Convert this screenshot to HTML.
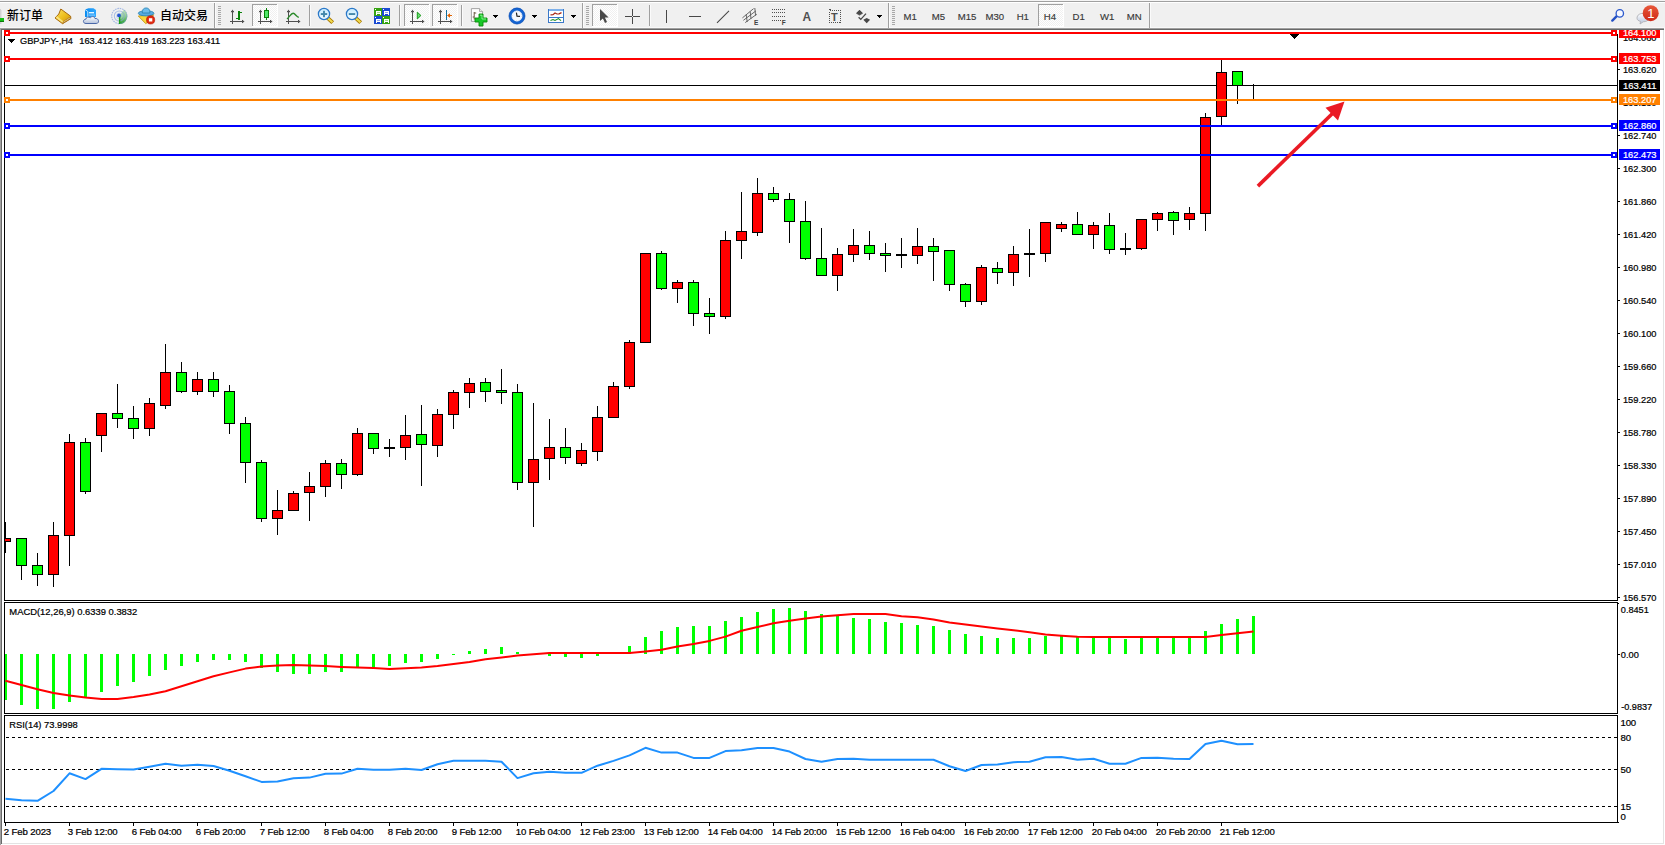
<!DOCTYPE html>
<html lang="zh"><head><meta charset="utf-8"><title>GBPJPY-,H4</title>
<style>
html,body{margin:0;padding:0;background:#f0f0f0;}
body{width:1665px;height:845px;overflow:hidden;position:relative;font-family:"Liberation Sans","Noto Sans CJK SC",sans-serif;}
svg{position:absolute;left:0;top:0;display:block}
text{font-family:"Liberation Sans","Noto Sans CJK SC",sans-serif;}
.ax{font-size:9.6px;fill:#000;stroke:#000;stroke-width:.22px}
.dt{font-size:9.6px;letter-spacing:-0.13px;fill:#000;stroke:#000;stroke-width:.22px}
.axw{font-size:9.6px;fill:#fff;stroke:#fff;stroke-width:.22px}
.tf{font-size:9.6px;fill:#383838;stroke:#383838;stroke-width:.15px}
.cn{font-size:12px;fill:#000;font-family:"Liberation Sans","Noto Sans CJK SC",sans-serif}
.crisp{shape-rendering:crispEdges}
</style></head><body>
<svg width="1665" height="845" viewBox="0 0 1665 845">
<g class="crisp">
<rect x="0" y="0" width="1665" height="845" fill="#f0f0f0"/>
<rect x="0" y="0" width="1665" height="1" fill="#f5f5f5"/>
<rect x="0" y="1" width="1665" height="1" fill="#a0a0a0"/>
<rect x="0" y="2" width="1665" height="1" fill="#ffffff"/>
<rect x="0" y="27" width="1665" height="1" fill="#f8f8f8"/>
<rect x="0" y="28" width="1664" height="817" fill="#a0a0a0"/>
<rect x="1" y="29" width="1663" height="816" fill="#696969"/>
<rect x="2" y="30" width="1663" height="815" fill="#ffffff"/>
<rect x="1663" y="30" width="1" height="814" fill="#e3e3e3"/>
<rect x="2" y="843" width="1662" height="1" fill="#e3e3e3"/>
<rect x="1664" y="28" width="1" height="817" fill="#ffffff"/>
<rect x="0" y="844" width="1665" height="1" fill="#ffffff"/>
<rect x="0" y="28" width="1" height="817" fill="#a0a0a0"/>
</g>
<g class="crisp">
<rect x="4" y="30" width="1" height="571" fill="#000"/>
<rect x="1617" y="34" width="1" height="567" fill="#000"/>
<rect x="4" y="600" width="1614" height="1" fill="#000"/>
<rect x="4" y="602" width="1614" height="1" fill="#000"/>
<rect x="4" y="602" width="1" height="112" fill="#000"/>
<rect x="1617" y="602" width="1" height="112" fill="#000"/>
<rect x="4" y="713" width="1614" height="1" fill="#000"/>
<rect x="4" y="715" width="1614" height="1" fill="#000"/>
<rect x="4" y="715" width="1" height="108" fill="#000"/>
<rect x="1617" y="715" width="1" height="108" fill="#000"/>
<rect x="4" y="822" width="1614" height="1" fill="#000"/>
<rect x="5" y="85" width="1612" height="1" fill="#000"/>
<rect x="5" y="522" width="1" height="31" fill="#000"/>
<rect x="5" y="538" width="6" height="4" fill="#000"/>
<rect x="5" y="539" width="5" height="2" fill="#ff0000"/>
<rect x="21" y="538" width="1" height="42" fill="#000"/>
<rect x="16" y="538" width="11" height="28" fill="#000"/>
<rect x="17" y="539" width="9" height="26" fill="#00ff00"/>
<rect x="37" y="553" width="1" height="33" fill="#000"/>
<rect x="32" y="565" width="11" height="10" fill="#000"/>
<rect x="33" y="566" width="9" height="8" fill="#00ff00"/>
<rect x="53" y="522" width="1" height="65" fill="#000"/>
<rect x="48" y="535" width="11" height="40" fill="#000"/>
<rect x="49" y="536" width="9" height="38" fill="#ff0000"/>
<rect x="69" y="434" width="1" height="132" fill="#000"/>
<rect x="64" y="442" width="11" height="94" fill="#000"/>
<rect x="65" y="443" width="9" height="92" fill="#ff0000"/>
<rect x="85" y="438" width="1" height="56" fill="#000"/>
<rect x="80" y="442" width="11" height="50" fill="#000"/>
<rect x="81" y="443" width="9" height="48" fill="#00ff00"/>
<rect x="101" y="413" width="1" height="39" fill="#000"/>
<rect x="96" y="413" width="11" height="23" fill="#000"/>
<rect x="97" y="414" width="9" height="21" fill="#ff0000"/>
<rect x="117" y="384" width="1" height="44" fill="#000"/>
<rect x="112" y="413" width="11" height="6" fill="#000"/>
<rect x="113" y="414" width="9" height="4" fill="#00ff00"/>
<rect x="133" y="406" width="1" height="33" fill="#000"/>
<rect x="128" y="418" width="11" height="11" fill="#000"/>
<rect x="129" y="419" width="9" height="9" fill="#00ff00"/>
<rect x="149" y="398" width="1" height="38" fill="#000"/>
<rect x="144" y="403" width="11" height="26" fill="#000"/>
<rect x="145" y="404" width="9" height="24" fill="#ff0000"/>
<rect x="165" y="344" width="1" height="65" fill="#000"/>
<rect x="160" y="372" width="11" height="34" fill="#000"/>
<rect x="161" y="373" width="9" height="32" fill="#ff0000"/>
<rect x="181" y="362" width="1" height="31" fill="#000"/>
<rect x="176" y="372" width="11" height="20" fill="#000"/>
<rect x="177" y="373" width="9" height="18" fill="#00ff00"/>
<rect x="197" y="372" width="1" height="23" fill="#000"/>
<rect x="192" y="379" width="11" height="13" fill="#000"/>
<rect x="193" y="380" width="9" height="11" fill="#ff0000"/>
<rect x="213" y="372" width="1" height="25" fill="#000"/>
<rect x="208" y="379" width="11" height="13" fill="#000"/>
<rect x="209" y="380" width="9" height="11" fill="#00ff00"/>
<rect x="229" y="385" width="1" height="49" fill="#000"/>
<rect x="224" y="391" width="11" height="33" fill="#000"/>
<rect x="225" y="392" width="9" height="31" fill="#00ff00"/>
<rect x="245" y="417" width="1" height="66" fill="#000"/>
<rect x="240" y="423" width="11" height="40" fill="#000"/>
<rect x="241" y="424" width="9" height="38" fill="#00ff00"/>
<rect x="261" y="460" width="1" height="62" fill="#000"/>
<rect x="256" y="462" width="11" height="57" fill="#000"/>
<rect x="257" y="463" width="9" height="55" fill="#00ff00"/>
<rect x="277" y="490" width="1" height="45" fill="#000"/>
<rect x="272" y="510" width="11" height="9" fill="#000"/>
<rect x="273" y="511" width="9" height="7" fill="#ff0000"/>
<rect x="293" y="491" width="1" height="20" fill="#000"/>
<rect x="288" y="493" width="11" height="18" fill="#000"/>
<rect x="289" y="494" width="9" height="16" fill="#ff0000"/>
<rect x="309" y="472" width="1" height="49" fill="#000"/>
<rect x="304" y="486" width="11" height="7" fill="#000"/>
<rect x="305" y="487" width="9" height="5" fill="#ff0000"/>
<rect x="325" y="460" width="1" height="37" fill="#000"/>
<rect x="320" y="463" width="11" height="24" fill="#000"/>
<rect x="321" y="464" width="9" height="22" fill="#ff0000"/>
<rect x="341" y="459" width="1" height="30" fill="#000"/>
<rect x="336" y="463" width="11" height="12" fill="#000"/>
<rect x="337" y="464" width="9" height="10" fill="#00ff00"/>
<rect x="357" y="428" width="1" height="48" fill="#000"/>
<rect x="352" y="433" width="11" height="42" fill="#000"/>
<rect x="353" y="434" width="9" height="40" fill="#ff0000"/>
<rect x="373" y="433" width="1" height="21" fill="#000"/>
<rect x="368" y="433" width="11" height="16" fill="#000"/>
<rect x="369" y="434" width="9" height="14" fill="#00ff00"/>
<rect x="389" y="439" width="1" height="18" fill="#000"/>
<rect x="384" y="447" width="11" height="2" fill="#000"/>
<rect x="405" y="415" width="1" height="45" fill="#000"/>
<rect x="400" y="435" width="11" height="13" fill="#000"/>
<rect x="401" y="436" width="9" height="11" fill="#ff0000"/>
<rect x="421" y="405" width="1" height="81" fill="#000"/>
<rect x="416" y="434" width="11" height="11" fill="#000"/>
<rect x="417" y="435" width="9" height="9" fill="#00ff00"/>
<rect x="437" y="409" width="1" height="48" fill="#000"/>
<rect x="432" y="414" width="11" height="32" fill="#000"/>
<rect x="433" y="415" width="9" height="30" fill="#ff0000"/>
<rect x="453" y="390" width="1" height="39" fill="#000"/>
<rect x="448" y="392" width="11" height="23" fill="#000"/>
<rect x="449" y="393" width="9" height="21" fill="#ff0000"/>
<rect x="469" y="378" width="1" height="30" fill="#000"/>
<rect x="464" y="383" width="11" height="10" fill="#000"/>
<rect x="465" y="384" width="9" height="8" fill="#ff0000"/>
<rect x="485" y="378" width="1" height="24" fill="#000"/>
<rect x="480" y="382" width="11" height="10" fill="#000"/>
<rect x="481" y="383" width="9" height="8" fill="#00ff00"/>
<rect x="501" y="369" width="1" height="35" fill="#000"/>
<rect x="496" y="390" width="11" height="3" fill="#000"/>
<rect x="497" y="391" width="9" height="1" fill="#00ff00"/>
<rect x="517" y="384" width="1" height="106" fill="#000"/>
<rect x="512" y="392" width="11" height="91" fill="#000"/>
<rect x="513" y="393" width="9" height="89" fill="#00ff00"/>
<rect x="533" y="403" width="1" height="124" fill="#000"/>
<rect x="528" y="459" width="11" height="24" fill="#000"/>
<rect x="529" y="460" width="9" height="22" fill="#ff0000"/>
<rect x="549" y="419" width="1" height="61" fill="#000"/>
<rect x="544" y="447" width="11" height="12" fill="#000"/>
<rect x="545" y="448" width="9" height="10" fill="#ff0000"/>
<rect x="565" y="428" width="1" height="36" fill="#000"/>
<rect x="560" y="447" width="11" height="11" fill="#000"/>
<rect x="561" y="448" width="9" height="9" fill="#00ff00"/>
<rect x="581" y="443" width="1" height="23" fill="#000"/>
<rect x="576" y="450" width="11" height="14" fill="#000"/>
<rect x="577" y="451" width="9" height="12" fill="#ff0000"/>
<rect x="597" y="406" width="1" height="55" fill="#000"/>
<rect x="592" y="417" width="11" height="35" fill="#000"/>
<rect x="593" y="418" width="9" height="33" fill="#ff0000"/>
<rect x="613" y="382" width="1" height="36" fill="#000"/>
<rect x="608" y="386" width="11" height="32" fill="#000"/>
<rect x="609" y="387" width="9" height="30" fill="#ff0000"/>
<rect x="629" y="340" width="1" height="49" fill="#000"/>
<rect x="624" y="342" width="11" height="45" fill="#000"/>
<rect x="625" y="343" width="9" height="43" fill="#ff0000"/>
<rect x="645" y="253" width="1" height="90" fill="#000"/>
<rect x="640" y="253" width="11" height="90" fill="#000"/>
<rect x="641" y="254" width="9" height="88" fill="#ff0000"/>
<rect x="661" y="251" width="1" height="39" fill="#000"/>
<rect x="656" y="253" width="11" height="36" fill="#000"/>
<rect x="657" y="254" width="9" height="34" fill="#00ff00"/>
<rect x="677" y="280" width="1" height="23" fill="#000"/>
<rect x="672" y="282" width="11" height="7" fill="#000"/>
<rect x="673" y="283" width="9" height="5" fill="#ff0000"/>
<rect x="693" y="280" width="1" height="46" fill="#000"/>
<rect x="688" y="282" width="11" height="32" fill="#000"/>
<rect x="689" y="283" width="9" height="30" fill="#00ff00"/>
<rect x="709" y="298" width="1" height="36" fill="#000"/>
<rect x="704" y="313" width="11" height="4" fill="#000"/>
<rect x="705" y="314" width="9" height="2" fill="#00ff00"/>
<rect x="725" y="231" width="1" height="88" fill="#000"/>
<rect x="720" y="240" width="11" height="77" fill="#000"/>
<rect x="721" y="241" width="9" height="75" fill="#ff0000"/>
<rect x="741" y="192" width="1" height="67" fill="#000"/>
<rect x="736" y="231" width="11" height="10" fill="#000"/>
<rect x="737" y="232" width="9" height="8" fill="#ff0000"/>
<rect x="757" y="178" width="1" height="58" fill="#000"/>
<rect x="752" y="193" width="11" height="40" fill="#000"/>
<rect x="753" y="194" width="9" height="38" fill="#ff0000"/>
<rect x="773" y="187" width="1" height="15" fill="#000"/>
<rect x="768" y="193" width="11" height="7" fill="#000"/>
<rect x="769" y="194" width="9" height="5" fill="#00ff00"/>
<rect x="789" y="193" width="1" height="50" fill="#000"/>
<rect x="784" y="199" width="11" height="23" fill="#000"/>
<rect x="785" y="200" width="9" height="21" fill="#00ff00"/>
<rect x="805" y="201" width="1" height="59" fill="#000"/>
<rect x="800" y="221" width="11" height="38" fill="#000"/>
<rect x="801" y="222" width="9" height="36" fill="#00ff00"/>
<rect x="821" y="228" width="1" height="48" fill="#000"/>
<rect x="816" y="258" width="11" height="18" fill="#000"/>
<rect x="817" y="259" width="9" height="16" fill="#00ff00"/>
<rect x="837" y="248" width="1" height="43" fill="#000"/>
<rect x="832" y="254" width="11" height="22" fill="#000"/>
<rect x="833" y="255" width="9" height="20" fill="#ff0000"/>
<rect x="853" y="229" width="1" height="33" fill="#000"/>
<rect x="848" y="245" width="11" height="10" fill="#000"/>
<rect x="849" y="246" width="9" height="8" fill="#ff0000"/>
<rect x="869" y="231" width="1" height="29" fill="#000"/>
<rect x="864" y="245" width="11" height="9" fill="#000"/>
<rect x="865" y="246" width="9" height="7" fill="#00ff00"/>
<rect x="885" y="243" width="1" height="29" fill="#000"/>
<rect x="880" y="253" width="11" height="3" fill="#000"/>
<rect x="881" y="254" width="9" height="1" fill="#00ff00"/>
<rect x="901" y="238" width="1" height="30" fill="#000"/>
<rect x="896" y="254" width="11" height="2" fill="#000"/>
<rect x="917" y="228" width="1" height="36" fill="#000"/>
<rect x="912" y="246" width="11" height="10" fill="#000"/>
<rect x="913" y="247" width="9" height="8" fill="#ff0000"/>
<rect x="933" y="238" width="1" height="43" fill="#000"/>
<rect x="928" y="246" width="11" height="6" fill="#000"/>
<rect x="929" y="247" width="9" height="4" fill="#00ff00"/>
<rect x="949" y="250" width="1" height="41" fill="#000"/>
<rect x="944" y="250" width="11" height="35" fill="#000"/>
<rect x="945" y="251" width="9" height="33" fill="#00ff00"/>
<rect x="965" y="283" width="1" height="24" fill="#000"/>
<rect x="960" y="284" width="11" height="18" fill="#000"/>
<rect x="961" y="285" width="9" height="16" fill="#00ff00"/>
<rect x="981" y="265" width="1" height="40" fill="#000"/>
<rect x="976" y="267" width="11" height="35" fill="#000"/>
<rect x="977" y="268" width="9" height="33" fill="#ff0000"/>
<rect x="997" y="262" width="1" height="22" fill="#000"/>
<rect x="992" y="268" width="11" height="5" fill="#000"/>
<rect x="993" y="269" width="9" height="3" fill="#00ff00"/>
<rect x="1013" y="246" width="1" height="40" fill="#000"/>
<rect x="1008" y="254" width="11" height="19" fill="#000"/>
<rect x="1009" y="255" width="9" height="17" fill="#ff0000"/>
<rect x="1029" y="229" width="1" height="48" fill="#000"/>
<rect x="1024" y="253" width="11" height="2" fill="#000"/>
<rect x="1045" y="222" width="1" height="40" fill="#000"/>
<rect x="1040" y="222" width="11" height="32" fill="#000"/>
<rect x="1041" y="223" width="9" height="30" fill="#ff0000"/>
<rect x="1061" y="222" width="1" height="10" fill="#000"/>
<rect x="1056" y="224" width="11" height="5" fill="#000"/>
<rect x="1057" y="225" width="9" height="3" fill="#ff0000"/>
<rect x="1077" y="212" width="1" height="23" fill="#000"/>
<rect x="1072" y="224" width="11" height="11" fill="#000"/>
<rect x="1073" y="225" width="9" height="9" fill="#00ff00"/>
<rect x="1093" y="222" width="1" height="27" fill="#000"/>
<rect x="1088" y="225" width="11" height="10" fill="#000"/>
<rect x="1089" y="226" width="9" height="8" fill="#ff0000"/>
<rect x="1109" y="213" width="1" height="41" fill="#000"/>
<rect x="1104" y="225" width="11" height="25" fill="#000"/>
<rect x="1105" y="226" width="9" height="23" fill="#00ff00"/>
<rect x="1125" y="233" width="1" height="22" fill="#000"/>
<rect x="1120" y="248" width="11" height="2" fill="#000"/>
<rect x="1141" y="219" width="1" height="31" fill="#000"/>
<rect x="1136" y="219" width="11" height="30" fill="#000"/>
<rect x="1137" y="220" width="9" height="28" fill="#ff0000"/>
<rect x="1157" y="212" width="1" height="19" fill="#000"/>
<rect x="1152" y="213" width="11" height="7" fill="#000"/>
<rect x="1153" y="214" width="9" height="5" fill="#ff0000"/>
<rect x="1173" y="211" width="1" height="24" fill="#000"/>
<rect x="1168" y="212" width="11" height="9" fill="#000"/>
<rect x="1169" y="213" width="9" height="7" fill="#00ff00"/>
<rect x="1189" y="207" width="1" height="23" fill="#000"/>
<rect x="1184" y="213" width="11" height="7" fill="#000"/>
<rect x="1185" y="214" width="9" height="5" fill="#ff0000"/>
<rect x="1205" y="113" width="1" height="118" fill="#000"/>
<rect x="1200" y="117" width="11" height="97" fill="#000"/>
<rect x="1201" y="118" width="9" height="95" fill="#ff0000"/>
<rect x="1221" y="60" width="1" height="65" fill="#000"/>
<rect x="1216" y="72" width="11" height="45" fill="#000"/>
<rect x="1217" y="73" width="9" height="43" fill="#ff0000"/>
<rect x="1237" y="71" width="1" height="33" fill="#000"/>
<rect x="1232" y="71" width="11" height="15" fill="#000"/>
<rect x="1233" y="72" width="9" height="13" fill="#00ff00"/>
<rect x="1253" y="84" width="1" height="16" fill="#000"/>
<rect x="1248" y="85" width="11" height="1" fill="#000"/>
<rect x="5" y="32" width="1612" height="2" fill="#ff0000"/>
<rect x="4" y="30" width="6" height="6" fill="#ff0000"/>
<rect x="6" y="32" width="2" height="2" fill="#fff"/>
<rect x="1611" y="30" width="6" height="6" fill="#ff0000"/>
<rect x="1613" y="32" width="2" height="2" fill="#fff"/>
<rect x="5" y="58" width="1612" height="2" fill="#ff0000"/>
<rect x="4" y="56" width="6" height="6" fill="#ff0000"/>
<rect x="6" y="58" width="2" height="2" fill="#fff"/>
<rect x="1611" y="56" width="6" height="6" fill="#ff0000"/>
<rect x="1613" y="58" width="2" height="2" fill="#fff"/>
<rect x="5" y="99" width="1612" height="2" fill="#ff8000"/>
<rect x="4" y="97" width="6" height="6" fill="#ff8000"/>
<rect x="6" y="99" width="2" height="2" fill="#fff"/>
<rect x="1611" y="97" width="6" height="6" fill="#ff8000"/>
<rect x="1613" y="99" width="2" height="2" fill="#fff"/>
<rect x="5" y="125" width="1612" height="2" fill="#0000ff"/>
<rect x="4" y="123" width="6" height="6" fill="#0000ff"/>
<rect x="6" y="125" width="2" height="2" fill="#fff"/>
<rect x="1611" y="123" width="6" height="6" fill="#0000ff"/>
<rect x="1613" y="125" width="2" height="2" fill="#fff"/>
<rect x="5" y="154" width="1612" height="2" fill="#0000ff"/>
<rect x="4" y="152" width="6" height="6" fill="#0000ff"/>
<rect x="6" y="154" width="2" height="2" fill="#fff"/>
<rect x="1611" y="152" width="6" height="6" fill="#0000ff"/>
<rect x="1613" y="154" width="2" height="2" fill="#fff"/>
<path d="M1289 34h10l-5 5z" fill="#000"/>
<rect x="1285" y="32" width="20" height="2" fill="#ff0000"/>
<path d="M8 39h7l-3.5 4z" fill="#000"/>
</g>
<g><line x1="1257.9" y1="186.1" x2="1333" y2="113" stroke="#ea1a24" stroke-width="3.6"/>
<path d="M1344.5 101.5L1325.5 107.8L1338 120.5z" fill="#ea1a24"/></g>
<g class="crisp">
<rect x="1618" y="69" width="2" height="1" fill="#000"/>
<rect x="1618" y="135" width="2" height="1" fill="#000"/>
<rect x="1618" y="168" width="2" height="1" fill="#000"/>
<rect x="1618" y="201" width="2" height="1" fill="#000"/>
<rect x="1618" y="234" width="2" height="1" fill="#000"/>
<rect x="1618" y="267" width="2" height="1" fill="#000"/>
<rect x="1618" y="300" width="2" height="1" fill="#000"/>
<rect x="1618" y="333" width="2" height="1" fill="#000"/>
<rect x="1618" y="366" width="2" height="1" fill="#000"/>
<rect x="1618" y="399" width="2" height="1" fill="#000"/>
<rect x="1618" y="432" width="2" height="1" fill="#000"/>
<rect x="1618" y="465" width="2" height="1" fill="#000"/>
<rect x="1618" y="498" width="2" height="1" fill="#000"/>
<rect x="1618" y="531" width="2" height="1" fill="#000"/>
<rect x="1618" y="564" width="2" height="1" fill="#000"/>
<rect x="1618" y="597" width="2" height="1" fill="#000"/>
</g>
<text class="ax" x="1622.9" y="40.6" textLength="33.6" lengthAdjust="spacingAndGlyphs">164.060</text>
<text class="ax" x="1622.9" y="105.6" textLength="33.6" lengthAdjust="spacingAndGlyphs">163.180</text>
<text class="ax" x="1622.9" y="72.6" textLength="33.6" lengthAdjust="spacingAndGlyphs">163.620</text>
<text class="ax" x="1622.9" y="138.6" textLength="33.6" lengthAdjust="spacingAndGlyphs">162.740</text>
<text class="ax" x="1622.9" y="171.6" textLength="33.6" lengthAdjust="spacingAndGlyphs">162.300</text>
<text class="ax" x="1622.9" y="204.6" textLength="33.6" lengthAdjust="spacingAndGlyphs">161.860</text>
<text class="ax" x="1622.9" y="237.6" textLength="33.6" lengthAdjust="spacingAndGlyphs">161.420</text>
<text class="ax" x="1622.9" y="270.6" textLength="33.6" lengthAdjust="spacingAndGlyphs">160.980</text>
<text class="ax" x="1622.9" y="303.6" textLength="33.6" lengthAdjust="spacingAndGlyphs">160.540</text>
<text class="ax" x="1622.9" y="336.6" textLength="33.6" lengthAdjust="spacingAndGlyphs">160.100</text>
<text class="ax" x="1622.9" y="369.6" textLength="33.6" lengthAdjust="spacingAndGlyphs">159.660</text>
<text class="ax" x="1622.9" y="402.6" textLength="33.6" lengthAdjust="spacingAndGlyphs">159.220</text>
<text class="ax" x="1622.9" y="435.6" textLength="33.6" lengthAdjust="spacingAndGlyphs">158.780</text>
<text class="ax" x="1622.9" y="468.6" textLength="33.6" lengthAdjust="spacingAndGlyphs">158.330</text>
<text class="ax" x="1622.9" y="501.6" textLength="33.6" lengthAdjust="spacingAndGlyphs">157.890</text>
<text class="ax" x="1622.9" y="534.6" textLength="33.6" lengthAdjust="spacingAndGlyphs">157.450</text>
<text class="ax" x="1622.9" y="567.6" textLength="33.6" lengthAdjust="spacingAndGlyphs">157.010</text>
<text class="ax" x="1622.9" y="600.6" textLength="33.6" lengthAdjust="spacingAndGlyphs">156.570</text>
<rect class="crisp" x="1619" y="30" width="41" height="8" fill="#ff0000"/>
<text class="axw" x="1622.9" y="35.6" textLength="33.6" lengthAdjust="spacingAndGlyphs">164.100</text>
<rect class="crisp" x="1619" y="53" width="41" height="11" fill="#ff0000"/>
<text class="axw" x="1622.9" y="61.6" textLength="33.6" lengthAdjust="spacingAndGlyphs">163.753</text>
<rect class="crisp" x="1619" y="80" width="41" height="11" fill="#000000"/>
<text class="axw" x="1622.9" y="88.6" textLength="33.6" lengthAdjust="spacingAndGlyphs">163.411</text>
<rect class="crisp" x="1619" y="94" width="41" height="11" fill="#ff8000"/>
<text class="axw" x="1622.9" y="102.6" textLength="33.6" lengthAdjust="spacingAndGlyphs">163.207</text>
<rect class="crisp" x="1619" y="120" width="41" height="11" fill="#0000ff"/>
<text class="axw" x="1622.9" y="128.6" textLength="33.6" lengthAdjust="spacingAndGlyphs">162.860</text>
<rect class="crisp" x="1619" y="149" width="41" height="11" fill="#0000ff"/>
<text class="axw" x="1622.9" y="157.6" textLength="33.6" lengthAdjust="spacingAndGlyphs">162.473</text>
<g class="crisp">
<rect x="1618" y="28" width="45" height="1" fill="#a0a0a0"/>
<rect x="1618" y="29" width="45" height="1" fill="#696969"/>
</g>
<text class="ax" x="20" y="43.7" textLength="53" lengthAdjust="spacingAndGlyphs">GBPJPY-,H4</text>
<text class="ax" x="79.3" y="43.7" textLength="140.8" lengthAdjust="spacingAndGlyphs">163.412 163.419 163.223 163.411</text>
<g class="crisp">
<rect x="5" y="654" width="2" height="46" fill="#00ff00"/>
<rect x="20" y="654" width="3" height="51" fill="#00ff00"/>
<rect x="36" y="654" width="3" height="55" fill="#00ff00"/>
<rect x="52" y="654" width="3" height="55" fill="#00ff00"/>
<rect x="68" y="654" width="3" height="48" fill="#00ff00"/>
<rect x="84" y="654" width="3" height="44" fill="#00ff00"/>
<rect x="100" y="654" width="3" height="38" fill="#00ff00"/>
<rect x="116" y="654" width="3" height="32" fill="#00ff00"/>
<rect x="132" y="654" width="3" height="28" fill="#00ff00"/>
<rect x="148" y="654" width="3" height="22" fill="#00ff00"/>
<rect x="164" y="654" width="3" height="16" fill="#00ff00"/>
<rect x="180" y="654" width="3" height="12" fill="#00ff00"/>
<rect x="196" y="654" width="3" height="8" fill="#00ff00"/>
<rect x="212" y="654" width="3" height="6" fill="#00ff00"/>
<rect x="228" y="654" width="3" height="6" fill="#00ff00"/>
<rect x="244" y="654" width="3" height="8" fill="#00ff00"/>
<rect x="260" y="654" width="3" height="14" fill="#00ff00"/>
<rect x="276" y="654" width="3" height="18" fill="#00ff00"/>
<rect x="292" y="654" width="3" height="20" fill="#00ff00"/>
<rect x="308" y="654" width="3" height="20" fill="#00ff00"/>
<rect x="324" y="654" width="3" height="18" fill="#00ff00"/>
<rect x="340" y="654" width="3" height="18" fill="#00ff00"/>
<rect x="356" y="654" width="3" height="14" fill="#00ff00"/>
<rect x="372" y="654" width="3" height="14" fill="#00ff00"/>
<rect x="388" y="654" width="3" height="12" fill="#00ff00"/>
<rect x="404" y="654" width="3" height="9" fill="#00ff00"/>
<rect x="420" y="654" width="3" height="8" fill="#00ff00"/>
<rect x="436" y="654" width="3" height="5" fill="#00ff00"/>
<rect x="452" y="654" width="3" height="1" fill="#00ff00"/>
<rect x="468" y="651" width="3" height="3" fill="#00ff00"/>
<rect x="484" y="649" width="3" height="5" fill="#00ff00"/>
<rect x="500" y="647" width="3" height="7" fill="#00ff00"/>
<rect x="516" y="652" width="3" height="2" fill="#00ff00"/>
<rect x="548" y="654" width="3" height="2" fill="#00ff00"/>
<rect x="564" y="654" width="3" height="3" fill="#00ff00"/>
<rect x="580" y="654" width="3" height="4" fill="#00ff00"/>
<rect x="596" y="654" width="3" height="2" fill="#00ff00"/>
<rect x="628" y="646" width="3" height="8" fill="#00ff00"/>
<rect x="644" y="637" width="3" height="17" fill="#00ff00"/>
<rect x="660" y="631" width="3" height="23" fill="#00ff00"/>
<rect x="676" y="627" width="3" height="27" fill="#00ff00"/>
<rect x="692" y="626" width="3" height="28" fill="#00ff00"/>
<rect x="708" y="626" width="3" height="28" fill="#00ff00"/>
<rect x="724" y="621" width="3" height="33" fill="#00ff00"/>
<rect x="740" y="617" width="3" height="37" fill="#00ff00"/>
<rect x="756" y="612" width="3" height="42" fill="#00ff00"/>
<rect x="772" y="609" width="3" height="45" fill="#00ff00"/>
<rect x="788" y="608" width="3" height="46" fill="#00ff00"/>
<rect x="804" y="611" width="3" height="43" fill="#00ff00"/>
<rect x="820" y="614" width="3" height="40" fill="#00ff00"/>
<rect x="836" y="616" width="3" height="38" fill="#00ff00"/>
<rect x="852" y="618" width="3" height="36" fill="#00ff00"/>
<rect x="868" y="619" width="3" height="35" fill="#00ff00"/>
<rect x="884" y="622" width="3" height="32" fill="#00ff00"/>
<rect x="900" y="623" width="3" height="31" fill="#00ff00"/>
<rect x="916" y="625" width="3" height="29" fill="#00ff00"/>
<rect x="932" y="626" width="3" height="28" fill="#00ff00"/>
<rect x="948" y="630" width="3" height="24" fill="#00ff00"/>
<rect x="964" y="634" width="3" height="20" fill="#00ff00"/>
<rect x="980" y="636" width="3" height="18" fill="#00ff00"/>
<rect x="996" y="638" width="3" height="16" fill="#00ff00"/>
<rect x="1012" y="638" width="3" height="16" fill="#00ff00"/>
<rect x="1028" y="638" width="3" height="16" fill="#00ff00"/>
<rect x="1044" y="636" width="3" height="18" fill="#00ff00"/>
<rect x="1060" y="635" width="3" height="19" fill="#00ff00"/>
<rect x="1076" y="636" width="3" height="18" fill="#00ff00"/>
<rect x="1092" y="637" width="3" height="17" fill="#00ff00"/>
<rect x="1108" y="638" width="3" height="16" fill="#00ff00"/>
<rect x="1124" y="639" width="3" height="15" fill="#00ff00"/>
<rect x="1140" y="637" width="3" height="17" fill="#00ff00"/>
<rect x="1156" y="637" width="3" height="17" fill="#00ff00"/>
<rect x="1172" y="637" width="3" height="17" fill="#00ff00"/>
<rect x="1188" y="637" width="3" height="17" fill="#00ff00"/>
<rect x="1204" y="631" width="3" height="23" fill="#00ff00"/>
<rect x="1220" y="624" width="3" height="30" fill="#00ff00"/>
<rect x="1236" y="619" width="3" height="35" fill="#00ff00"/>
<rect x="1252" y="616" width="3" height="38" fill="#00ff00"/>
<rect x="1618" y="654" width="2" height="1" fill="#000"/>
<rect x="1618" y="603" width="1" height="1" fill="#000"/>
</g>
<polyline points="5.5,680.7 21.5,685.0 37.5,689.3 53.5,692.9 69.5,695.6 85.5,697.6 101.5,698.9 117.5,698.9 133.5,697.1 149.5,694.6 165.5,691.3 181.5,686.3 197.5,681.2 213.5,676.2 229.5,672.4 245.5,668.6 261.5,666.4 277.5,665.4 293.5,664.9 309.5,665.4 325.5,666.1 341.5,666.9 357.5,667.4 373.5,668.1 389.5,668.9 405.5,668.3 421.5,667.4 437.5,666.1 453.5,664.1 469.5,662.1 485.5,659.3 501.5,657.5 517.5,655.5 533.5,654.3 549.5,653.0 565.5,653.0 581.5,653.0 597.5,653.0 613.5,653.0 629.5,653.0 645.5,651.5 661.5,649.7 677.5,646.4 693.5,643.9 709.5,640.9 725.5,636.6 741.5,630.8 757.5,627.0 773.5,623.2 789.5,620.7 805.5,618.4 821.5,616.4 837.5,615.2 853.5,614.1 869.5,613.9 885.5,614.1 901.5,616.2 917.5,617.2 933.5,619.4 949.5,622.5 965.5,624.5 981.5,626.5 997.5,628.5 1013.5,630.3 1029.5,632.3 1045.5,634.6 1061.5,635.8 1077.5,636.8 1093.5,637.1 1109.5,637.1 1125.5,637.1 1141.5,637.1 1157.5,637.1 1173.5,637.1 1189.5,637.1 1205.5,637.1 1221.5,635.1 1237.5,633.3 1253.5,631.4" fill="none" stroke="#ff0000" stroke-width="2" stroke-linejoin="round"/>
<text class="ax" x="9.3" y="614.7" textLength="128" lengthAdjust="spacingAndGlyphs">MACD(12,26,9) 0.6339 0.3832</text>
<text class="ax" x="1620.8" y="612.7" textLength="28" lengthAdjust="spacingAndGlyphs">0.8451</text>
<text class="ax" x="1620.8" y="657.7" textLength="18" lengthAdjust="spacingAndGlyphs">0.00</text>
<text class="ax" x="1621.2" y="710.3" textLength="31" lengthAdjust="spacingAndGlyphs">-0.9837</text>
<g class="crisp">
<line x1="6" y1="737.5" x2="1617" y2="737.5" stroke="#000" stroke-width="1" stroke-dasharray="3 3"/>
<line x1="6" y1="769.5" x2="1617" y2="769.5" stroke="#000" stroke-width="1" stroke-dasharray="3 3"/>
<line x1="6" y1="806.5" x2="1617" y2="806.5" stroke="#000" stroke-width="1" stroke-dasharray="3 3"/>
<rect x="1618" y="822" width="1" height="1" fill="#000"/>
<rect x="5" y="823" width="1" height="3" fill="#000"/>
<rect x="69" y="823" width="1" height="3" fill="#000"/>
<rect x="133" y="823" width="1" height="3" fill="#000"/>
<rect x="197" y="823" width="1" height="3" fill="#000"/>
<rect x="261" y="823" width="1" height="3" fill="#000"/>
<rect x="325" y="823" width="1" height="3" fill="#000"/>
<rect x="389" y="823" width="1" height="3" fill="#000"/>
<rect x="453" y="823" width="1" height="3" fill="#000"/>
<rect x="517" y="823" width="1" height="3" fill="#000"/>
<rect x="581" y="823" width="1" height="3" fill="#000"/>
<rect x="645" y="823" width="1" height="3" fill="#000"/>
<rect x="709" y="823" width="1" height="3" fill="#000"/>
<rect x="773" y="823" width="1" height="3" fill="#000"/>
<rect x="837" y="823" width="1" height="3" fill="#000"/>
<rect x="901" y="823" width="1" height="3" fill="#000"/>
<rect x="965" y="823" width="1" height="3" fill="#000"/>
<rect x="1029" y="823" width="1" height="3" fill="#000"/>
<rect x="1093" y="823" width="1" height="3" fill="#000"/>
<rect x="1157" y="823" width="1" height="3" fill="#000"/>
<rect x="1221" y="823" width="1" height="3" fill="#000"/>
</g>
<polyline points="5.5,798.8 21.5,800.3 37.5,800.8 53.5,791.0 69.5,773.3 85.5,779.1 101.5,768.8 117.5,769.3 133.5,769.5 149.5,766.7 165.5,763.7 181.5,765.7 197.5,764.7 213.5,766.0 229.5,770.8 245.5,776.3 261.5,781.9 277.5,781.6 293.5,778.3 309.5,777.6 325.5,773.8 341.5,773.6 357.5,768.8 373.5,769.8 389.5,769.8 405.5,768.8 421.5,770.0 437.5,764.2 453.5,760.7 469.5,760.7 485.5,760.7 501.5,761.7 517.5,778.1 533.5,773.3 549.5,771.8 565.5,772.8 581.5,772.8 597.5,765.7 613.5,760.9 629.5,755.4 645.5,747.8 661.5,752.6 677.5,752.6 693.5,757.9 709.5,757.9 725.5,751.1 741.5,750.3 757.5,748.1 773.5,748.1 789.5,751.6 805.5,759.0 821.5,761.7 837.5,758.9 853.5,758.7 869.5,759.7 885.5,759.7 901.5,759.7 917.5,759.7 933.5,759.7 949.5,766.2 965.5,771.0 981.5,765.0 997.5,764.5 1013.5,762.2 1029.5,761.7 1045.5,757.2 1061.5,756.9 1077.5,759.7 1093.5,758.7 1109.5,763.7 1125.5,763.7 1141.5,757.9 1157.5,757.7 1173.5,758.7 1189.5,758.9 1205.5,743.9 1221.5,740.7 1237.5,744.3 1253.5,744.0" fill="none" stroke="#1e90ff" stroke-width="2" stroke-linejoin="round"/>
<text class="ax" x="9.3" y="727.7" textLength="68.5" lengthAdjust="spacingAndGlyphs">RSI(14) 73.9998</text>
<text class="ax" x="1620.6" y="726.1" style="letter-spacing:-0.2px">100</text>
<text class="ax" x="1620.6" y="741.1" style="letter-spacing:-0.2px">80</text>
<text class="ax" x="1620.6" y="773.1" style="letter-spacing:-0.2px">50</text>
<text class="ax" x="1620.6" y="810.1" style="letter-spacing:-0.2px">15</text>
<text class="ax" x="1620.6" y="819.6" style="letter-spacing:-0.2px">0</text>
<text class="dt" x="3.8" y="834.7">2 Feb 2023</text>
<text class="dt" x="67.8" y="834.7">3 Feb 12:00</text>
<text class="dt" x="131.8" y="834.7">6 Feb 04:00</text>
<text class="dt" x="195.8" y="834.7">6 Feb 20:00</text>
<text class="dt" x="259.8" y="834.7">7 Feb 12:00</text>
<text class="dt" x="323.8" y="834.7">8 Feb 04:00</text>
<text class="dt" x="387.8" y="834.7">8 Feb 20:00</text>
<text class="dt" x="451.8" y="834.7">9 Feb 12:00</text>
<text class="dt" x="515.8" y="834.7">10 Feb 04:00</text>
<text class="dt" x="579.8" y="834.7">12 Feb 23:00</text>
<text class="dt" x="643.8" y="834.7">13 Feb 12:00</text>
<text class="dt" x="707.8" y="834.7">14 Feb 04:00</text>
<text class="dt" x="771.8" y="834.7">14 Feb 20:00</text>
<text class="dt" x="835.8" y="834.7">15 Feb 12:00</text>
<text class="dt" x="899.8" y="834.7">16 Feb 04:00</text>
<text class="dt" x="963.8" y="834.7">16 Feb 20:00</text>
<text class="dt" x="1027.8" y="834.7">17 Feb 12:00</text>
<text class="dt" x="1091.8" y="834.7">20 Feb 04:00</text>
<text class="dt" x="1155.8" y="834.7">20 Feb 20:00</text>
<text class="dt" x="1219.8" y="834.7">21 Feb 12:00</text>
<defs>
<linearGradient id="gGold" x1="0" y1="0" x2="1" y2="1"><stop offset="0" stop-color="#fbe26a"/><stop offset=".5" stop-color="#eec020"/><stop offset="1" stop-color="#c98c10"/></linearGradient>
<linearGradient id="gCloud" x1="0" y1="0" x2="0" y2="1"><stop offset="0" stop-color="#ffffff"/><stop offset="1" stop-color="#b4c2dc"/></linearGradient>
<linearGradient id="gBlue" x1="0" y1="0" x2="1" y2="0"><stop offset="0" stop-color="#0a8cf0"/><stop offset="1" stop-color="#30a8ff"/></linearGradient>
<linearGradient id="gLens" x1="0" y1="0" x2="0" y2="1"><stop offset="0" stop-color="#c8ecff"/><stop offset="1" stop-color="#f0faff"/></linearGradient>
<linearGradient id="gGreen" x1="0" y1="0" x2="1" y2="0"><stop offset="0" stop-color="#30d850"/><stop offset=".5" stop-color="#80f090"/><stop offset="1" stop-color="#20c040"/></linearGradient>
<linearGradient id="gBadge" x1="0" y1="0" x2="0" y2="1"><stop offset="0" stop-color="#e8583a"/><stop offset="1" stop-color="#cf2a18"/></linearGradient>
<radialGradient id="gSig" cx=".5" cy=".5" r=".5"><stop offset="0" stop-color="#d8f0d0"/><stop offset="1" stop-color="#28a028"/></radialGradient>
<pattern id="dither" width="2" height="2" patternUnits="userSpaceOnUse"><rect width="2" height="2" fill="#fff"/><rect width="1" height="1" fill="#f0f0f0"/><rect x="1" y="1" width="1" height="1" fill="#f0f0f0"/></pattern>
</defs>
<g shape-rendering="crispEdges">
<rect x="214" y="3" width="1" height="25" fill="#a0a0a0"/><rect x="215" y="3" width="1" height="25" fill="#fbfbfb"/>
<rect x="218" y="6" width="3" height="1" fill="#a8a8a8"/>
<rect x="218" y="8" width="3" height="1" fill="#a8a8a8"/>
<rect x="218" y="10" width="3" height="1" fill="#a8a8a8"/>
<rect x="218" y="12" width="3" height="1" fill="#a8a8a8"/>
<rect x="218" y="14" width="3" height="1" fill="#a8a8a8"/>
<rect x="218" y="16" width="3" height="1" fill="#a8a8a8"/>
<rect x="218" y="18" width="3" height="1" fill="#a8a8a8"/>
<rect x="218" y="20" width="3" height="1" fill="#a8a8a8"/>
<rect x="218" y="22" width="3" height="1" fill="#a8a8a8"/>
<rect x="218" y="24" width="3" height="1" fill="#a8a8a8"/>
<rect x="252" y="4" width="26" height="23" fill="url(#dither)"/>
<rect x="252" y="4" width="26" height="1" fill="#a0a0a0"/><rect x="252" y="4" width="1" height="23" fill="#a0a0a0"/>
<rect x="277" y="4" width="1" height="23" fill="#fff"/><rect x="252" y="26" width="26" height="1" fill="#fff"/>
<rect x="309" y="5" width="1" height="21" fill="#a0a0a0"/><rect x="310" y="5" width="1" height="21" fill="#fbfbfb"/>
<rect x="399" y="5" width="1" height="21" fill="#a0a0a0"/><rect x="400" y="5" width="1" height="21" fill="#fbfbfb"/>
<rect x="404" y="4" width="26" height="23" fill="url(#dither)"/>
<rect x="404" y="4" width="26" height="1" fill="#a0a0a0"/><rect x="404" y="4" width="1" height="23" fill="#a0a0a0"/>
<rect x="429" y="4" width="1" height="23" fill="#fff"/><rect x="404" y="26" width="26" height="1" fill="#fff"/>
<rect x="432" y="4" width="26" height="23" fill="url(#dither)"/>
<rect x="432" y="4" width="26" height="1" fill="#a0a0a0"/><rect x="432" y="4" width="1" height="23" fill="#a0a0a0"/>
<rect x="457" y="4" width="1" height="23" fill="#fff"/><rect x="432" y="26" width="26" height="1" fill="#fff"/>
<rect x="461" y="5" width="1" height="21" fill="#a0a0a0"/><rect x="462" y="5" width="1" height="21" fill="#fbfbfb"/>
<rect x="582" y="3" width="1" height="25" fill="#a0a0a0"/><rect x="583" y="3" width="1" height="25" fill="#fbfbfb"/>
<rect x="586" y="6" width="3" height="1" fill="#a8a8a8"/>
<rect x="586" y="8" width="3" height="1" fill="#a8a8a8"/>
<rect x="586" y="10" width="3" height="1" fill="#a8a8a8"/>
<rect x="586" y="12" width="3" height="1" fill="#a8a8a8"/>
<rect x="586" y="14" width="3" height="1" fill="#a8a8a8"/>
<rect x="586" y="16" width="3" height="1" fill="#a8a8a8"/>
<rect x="586" y="18" width="3" height="1" fill="#a8a8a8"/>
<rect x="586" y="20" width="3" height="1" fill="#a8a8a8"/>
<rect x="586" y="22" width="3" height="1" fill="#a8a8a8"/>
<rect x="586" y="24" width="3" height="1" fill="#a8a8a8"/>
<rect x="592" y="4" width="26" height="23" fill="url(#dither)"/>
<rect x="592" y="4" width="26" height="1" fill="#a0a0a0"/><rect x="592" y="4" width="1" height="23" fill="#a0a0a0"/>
<rect x="617" y="4" width="1" height="23" fill="#fff"/><rect x="592" y="26" width="26" height="1" fill="#fff"/>
<rect x="649" y="5" width="1" height="21" fill="#a0a0a0"/><rect x="650" y="5" width="1" height="21" fill="#fbfbfb"/>
<rect x="888" y="3" width="1" height="25" fill="#a0a0a0"/><rect x="889" y="3" width="1" height="25" fill="#fbfbfb"/>
<rect x="892" y="6" width="3" height="1" fill="#a8a8a8"/>
<rect x="892" y="8" width="3" height="1" fill="#a8a8a8"/>
<rect x="892" y="10" width="3" height="1" fill="#a8a8a8"/>
<rect x="892" y="12" width="3" height="1" fill="#a8a8a8"/>
<rect x="892" y="14" width="3" height="1" fill="#a8a8a8"/>
<rect x="892" y="16" width="3" height="1" fill="#a8a8a8"/>
<rect x="892" y="18" width="3" height="1" fill="#a8a8a8"/>
<rect x="892" y="20" width="3" height="1" fill="#a8a8a8"/>
<rect x="892" y="22" width="3" height="1" fill="#a8a8a8"/>
<rect x="892" y="24" width="3" height="1" fill="#a8a8a8"/>
<rect x="1038" y="4" width="26" height="23" fill="url(#dither)"/>
<rect x="1038" y="4" width="26" height="1" fill="#a0a0a0"/><rect x="1038" y="4" width="1" height="23" fill="#a0a0a0"/>
<rect x="1063" y="4" width="1" height="23" fill="#fff"/><rect x="1038" y="26" width="26" height="1" fill="#fff"/>
<rect x="1149" y="3" width="1" height="25" fill="#a0a0a0"/><rect x="1150" y="3" width="1" height="25" fill="#fbfbfb"/>
<path d="M493 15h5v1h-1v1h-1v1h-1v-1h-1v-1h-1z" fill="#000"/>
<path d="M532 15h5v1h-1v1h-1v1h-1v-1h-1v-1h-1z" fill="#000"/>
<path d="M571 15h5v1h-1v1h-1v1h-1v-1h-1v-1h-1z" fill="#000"/>
<path d="M877 15h5v1h-1v1h-1v1h-1v-1h-1v-1h-1z" fill="#000"/>
<rect x="0" y="9" width="1" height="15" fill="#d2d2d2"/><rect x="1" y="10" width="1" height="14" fill="#e2e2e2"/><rect x="0" y="18" width="4" height="3" fill="#18c018"/><rect x="0" y="21" width="4" height="1" fill="#0a7a0a"/>
</g>
<text class="cn" x="7" y="19.5" font-weight="500">新订单</text>
<text class="cn" x="160" y="19.5" font-weight="500">自动交易</text>
<text class="tf" x="903.5" y="20">M1</text>
<text class="tf" x="931.7" y="20">M5</text>
<text class="tf" x="957.7" y="20">M15</text>
<text class="tf" x="985.5" y="20">M30</text>
<text class="tf" x="1016.7" y="20">H1</text>
<text class="tf" x="1043.8" y="20">H4</text>
<text class="tf" x="1072.5" y="20">D1</text>
<text class="tf" x="1100" y="20">W1</text>
<text class="tf" x="1126.7" y="20">MN</text>
<path d="M60.8 9L70.6 16.2L70.9 18.6L62.6 23.7L55 18L58.8 14z" fill="url(#gGold)" stroke="#a8690c" stroke-width="1" stroke-linejoin="round"/>
<path d="M55.6 17.6L62.7 22.9L63.3 21.2L57 16.2z" fill="#f9e788" opacity=".9"/>
<path d="M62.8 23.2L70.6 18.3L70.4 16.9L63.2 21.6z" fill="#e9d9a2" stroke="#a8690c" stroke-width=".6"/>
<path d="M85 9.5L88.5 8.2H93.5L96 10V17H85z" fill="url(#gBlue)"/><path d="M85 9.5L87.8 11.5V17" fill="none" stroke="#d8f0ff" stroke-width=".9"/><rect x="89" y="12" width="5" height="1.4" fill="#e8f6ff"/><rect x="89" y="14.6" width="6" height="1" fill="#8cd0ff"/>
<path d="M86 23.5C82.6 23.5 82.6 19.4 85.8 19.2C86 17 89 16.4 90.3 17.8C91.6 15.8 94.8 16.4 95 18.6C98.8 17.6 100 23.5 96.2 23.5z" fill="url(#gCloud)" stroke="#4a68a8" stroke-width="1"/>
<defs><linearGradient id="gSig2" gradientUnits="userSpaceOnUse" x1="121" y1="8" x2="123" y2="24"><stop offset="0" stop-color="#d4ead0"/><stop offset=".55" stop-color="#8fcf8c"/><stop offset="1" stop-color="#1f9f1f"/></linearGradient></defs>
<path d="M119.3 16V24A8 8 0 0 0 123.9 9.5z" fill="url(#gSig2)"/>
<circle cx="119.3" cy="16" r="7.6" fill="none" stroke="#6f92dc" stroke-width="1.1" opacity=".6" stroke-dasharray="1.6 .8"/>
<circle cx="119.3" cy="16" r="5" fill="none" stroke="#86a4dc" stroke-width="1.1" opacity=".65"/>
<circle cx="119.3" cy="16" r="2.9" fill="none" stroke="#a8c0e8" stroke-width=".9" opacity=".6"/>
<rect x="118.9" y="16" width="1.4" height="8" fill="#18a018"/>
<circle cx="119" cy="15.4" r="1.9" fill="#2458d0"/>
<path d="M138.3 16L153.6 14.8L150 20L145.8 23.7z" fill="#f7d63c" stroke="#c69612" stroke-width=".9" stroke-linejoin="round"/>
<ellipse cx="146.1" cy="13.3" rx="7.8" ry="2.6" fill="#58ace2" stroke="#2b84b4" stroke-width=".9"/>
<path d="M142.3 13C142.3 9 144 8 146.1 8S149.9 9 149.9 13z" fill="#6cbcec" stroke="#2b84b4" stroke-width=".9"/>
<circle cx="150.6" cy="19.9" r="4.1" fill="#e02a10"/><circle cx="150.6" cy="19.9" r="4.1" fill="none" stroke="#b81808" stroke-width=".6"/><rect x="148.9" y="18.2" width="3.4" height="3.3" fill="#fff"/>
<g shape-rendering="crispEdges" fill="#505050"><rect x="232" y="11" width="1" height="13"/><rect x="231" y="11" width="3" height="1"/><rect x="230" y="21" width="14" height="1"/><rect x="242" y="20" width="1" height="3"/></g>
<path d="M232.5 9.6L234.2 12.2H230.8z M244.6 21.5L242 19.8V23.2z" fill="#505050"/>
<g shape-rendering="crispEdges" fill="#0a820a"><rect x="238" y="11" width="2" height="9"/><rect x="240" y="12" width="2" height="1"/><rect x="236" y="18" width="2" height="1"/></g>
<g shape-rendering="crispEdges" fill="#505050"><rect x="260" y="11" width="1" height="13"/><rect x="259" y="11" width="3" height="1"/><rect x="258" y="21" width="14" height="1"/><rect x="270" y="20" width="1" height="3"/></g>
<path d="M260.5 9.6L262.2 12.2H258.8z M272.6 21.5L270 19.8V23.2z" fill="#505050"/>
<g shape-rendering="crispEdges"><rect x="266" y="8" width="1" height="12" fill="#0a820a"/><rect x="264" y="10" width="5" height="8" fill="#0a820a"/><rect x="265" y="11" width="3" height="6" fill="#50e868"/></g>
<g shape-rendering="crispEdges" fill="#505050"><rect x="288" y="11" width="1" height="13"/><rect x="287" y="11" width="3" height="1"/><rect x="286" y="21" width="14" height="1"/><rect x="298" y="20" width="1" height="3"/></g>
<path d="M288.5 9.6L290.2 12.2H286.8z M300.6 21.5L298 19.8V23.2z" fill="#505050"/>
<path d="M287 19C289.5 17 291 13.2 293.2 13.3C295 13.4 296.5 16.6 298.8 17.4" fill="none" stroke="#2a8a2a" stroke-width="1.4"/>
<path d="M327.6 17.9L332.7 22.6" stroke="#a87800" stroke-width="4" stroke-linecap="butt"/><path d="M327.9 18.2L332.4 22.3" stroke="#f2dc50" stroke-width="2.2"/>
<circle cx="324" cy="14" r="5.6" fill="url(#gLens)" stroke="#2a78c8" stroke-width="1.3"/>
<rect x="320.8" y="13.1" width="6.4" height="1.9" fill="#4488aa"/>
<rect x="323.05" y="10.8" width="1.9" height="6.4" fill="#4488aa"/>
<path d="M355.6 17.9L360.7 22.6" stroke="#a87800" stroke-width="4" stroke-linecap="butt"/><path d="M355.9 18.2L360.4 22.3" stroke="#f2dc50" stroke-width="2.2"/>
<circle cx="352" cy="14" r="5.6" fill="url(#gLens)" stroke="#2a78c8" stroke-width="1.3"/>
<rect x="348.8" y="13.1" width="6.4" height="1.9" fill="#4488aa"/>
<g shape-rendering="crispEdges"><rect x="374" y="8" width="8" height="8" fill="#36a312"/><rect x="375" y="9" width="1" height="1" fill="#fff"/><rect x="376" y="11" width="5" height="4" fill="#fff"/><rect x="375" y="13" width="7" height="2" fill="#fff" opacity=".0"/><rect x="377" y="12" width="3" height="1" fill="#9fd88a"/><rect x="377" y="14" width="3" height="1" fill="#36a312"/></g>
<g shape-rendering="crispEdges"><rect x="382" y="8" width="8" height="8" fill="#1a4ad2"/><rect x="383" y="9" width="1" height="1" fill="#fff"/><rect x="384" y="11" width="5" height="4" fill="#fff"/><rect x="383" y="13" width="7" height="2" fill="#fff" opacity=".0"/><rect x="385" y="12" width="3" height="1" fill="#8ca6ee"/><rect x="385" y="14" width="3" height="1" fill="#1a4ad2"/></g>
<g shape-rendering="crispEdges"><rect x="374" y="16" width="8" height="8" fill="#1a4ad2"/><rect x="375" y="17" width="1" height="1" fill="#fff"/><rect x="376" y="19" width="5" height="4" fill="#fff"/><rect x="375" y="21" width="7" height="2" fill="#fff" opacity=".0"/><rect x="377" y="20" width="3" height="1" fill="#8ca6ee"/><rect x="377" y="22" width="3" height="1" fill="#1a4ad2"/></g>
<g shape-rendering="crispEdges"><rect x="382" y="16" width="8" height="8" fill="#36a312"/><rect x="383" y="17" width="1" height="1" fill="#fff"/><rect x="384" y="19" width="5" height="4" fill="#fff"/><rect x="383" y="21" width="7" height="2" fill="#fff" opacity=".0"/><rect x="385" y="20" width="3" height="1" fill="#9fd88a"/><rect x="385" y="22" width="3" height="1" fill="#36a312"/></g>
<g shape-rendering="crispEdges" fill="#505050"><rect x="412" y="11" width="1" height="13"/><rect x="411" y="11" width="3" height="1"/><rect x="410" y="21" width="14" height="1"/><rect x="422" y="20" width="1" height="3"/></g>
<path d="M412.5 9.6L414.2 12.2H410.8z M424.6 21.5L422 19.8V23.2z" fill="#505050"/>
<path d="M417.3 12.2V18.9L420.9 15.5z" fill="#66e070" stroke="#1c9a1c" stroke-width="1" stroke-linejoin="round"/>
<g shape-rendering="crispEdges" fill="#505050"><rect x="440" y="11" width="1" height="13"/><rect x="439" y="11" width="3" height="1"/><rect x="438" y="21" width="14" height="1"/><rect x="450" y="20" width="1" height="3"/></g>
<path d="M440.5 9.6L442.2 12.2H438.8z M452.6 21.5L450 19.8V23.2z" fill="#505050"/>
<rect x="446" y="10" width="1" height="10" fill="#1070a0" shape-rendering="crispEdges"/><path d="M447 15.5L450 13.2V14.9H452V16.1H450V17.8z" fill="#e26400"/>
<path d="M471.4 8.6H479.5L482.6 11.6V21.4H471.4z" fill="#fdfdfd" stroke="#9a9a9a" stroke-width=".9"/><path d="M479.5 8.6V11.6H482.6" fill="#e8e8e8" stroke="#9a9a9a" stroke-width=".8"/><path d="M474.2 12v7.5M474.2 13h2M474.2 17h-1.5" stroke="#5a4a30" stroke-width=".9" fill="none"/>
<path d="M479 14H483V18H487V22H483V26H479V22H475V18H479z" fill="#18c828" stroke="#0a8a0a" stroke-width=".9"/><path d="M480 15.2H482V19H486" fill="none" stroke="#8df59a" stroke-width=".9"/>
<circle cx="517" cy="16" r="6.8" fill="#f4f8ff" stroke="#1464d2" stroke-width="2.7"/><circle cx="517" cy="16" r="8.1" fill="none" stroke="#0c48a8" stroke-width=".5"/><path d="M516.4 12.6L517 16.2L520 16.4" fill="none" stroke="#202020" stroke-width="1.2"/><circle cx="517" cy="16" r="5" fill="none" stroke="#a0b0c8" stroke-width=".8" stroke-dasharray=".8 1.8"/>
<g shape-rendering="crispEdges"><rect x="548" y="9" width="16" height="14" fill="#3a78c8"/><rect x="549" y="9" width="14" height="2" fill="#7db0ea"/><rect x="549" y="11" width="14" height="6" fill="#fff"/><rect x="549" y="18" width="14" height="4" fill="#fff"/></g>
<path d="M550.5 14.8L553 14.6L555 13L557 14L559 13.8L561.5 12.6" fill="none" stroke="#a82410" stroke-width="1.2"/><path d="M550.5 20.4L553 19.6L555 20.4L558.5 18.6L561 20.6" fill="none" stroke="#1a9020" stroke-width="1.1"/>
<path d="M600 9V21L602.9 18.4L605 23L607 22.1L604.9 17.6H608.6z" fill="#484848"/>
<g shape-rendering="crispEdges" fill="#484848"><rect x="632" y="9" width="1" height="15"/><rect x="625" y="16" width="15" height="1"/><rect x="632" y="16" width="1" height="1" fill="#f0f0f0"/></g>
<g shape-rendering="crispEdges" fill="#484848"><rect x="666" y="10" width="1" height="13"/><rect x="689" y="16" width="12" height="1"/></g>
<path d="M717 22.8L729 10.8" stroke="#484848" stroke-width="1.1"/>
<g stroke="#505050" stroke-width=".85" fill="none"><path d="M742.4 17.9L753.6 8.6M743.4 20.3L755.9 10.9M745.2 22.6L756.8 14.2"/><path d="M746.2 14.6L747.2 22M750.2 11.6L751 18.8M754.8 8L755.6 15.6"/></g>
<text x="754" y="24.8" font-size="6.5" font-weight="bold" fill="#404040">E</text>
<g stroke="#505050" stroke-width="1" stroke-dasharray="1 1" shape-rendering="crispEdges"><path d="M772 9.5H785M772 12.5H785M772 16.5H785M772 20.5H781"/></g>
<text x="781.8" y="24.8" font-size="6.5" font-weight="bold" fill="#404040">F</text>
<text x="802.4" y="21.1" font-size="11.9" font-weight="bold" fill="#505050">A</text>
<rect x="829.5" y="10.5" width="11" height="12" fill="none" stroke="#505050" stroke-width="1" stroke-dasharray="1 1" shape-rendering="crispEdges"/><rect x="829" y="9" width="2" height="1" fill="#505050"/>
<text x="831" y="20.7" font-size="11" font-weight="bold" fill="#505050">T</text>
<path d="M859.5 10L863 13.4H856z M856.8 14.2H862.2L859.5 15.6z" fill="#484848"/><path d="M866.6 23L863.2 19.6H870z M863.9 18.8H869.3L866.6 17.4z" fill="#484848" opacity=".0"/><path d="M866.7 23.2L863.3 19.8L866.7 18L870.1 19.8z" fill="#484848"/><path d="M859.5 10L862.9 13.2L859.5 14.8L856.1 13.2z" fill="#484848"/><path d="M858.6 17.2L860.8 19.4L866 13.6" fill="none" stroke="#484848" stroke-width="1.3"/>
<path d="M1612.3 20.6L1617 15.9" stroke="#2450c4" stroke-width="2.4" stroke-linecap="round"/><circle cx="1619.8" cy="13.4" r="3.7" fill="#f6f8ff" stroke="#2a58cc" stroke-width="1.3"/>
<path d="M1637 18.2C1637 14.8 1640 13.4 1643 13.4S1648.6 15 1648.6 18C1648.6 20.6 1646 21.8 1643.2 21.8L1640 24L1640.6 21.4C1638.4 20.9 1637 19.8 1637 18.2z" fill="url(#gCloud)" stroke="#b0b0b6" stroke-width=".9"/>
<circle cx="1650.7" cy="13.2" r="8" fill="url(#gBadge)"/>
<text x="1647.2" y="18" font-size="13" fill="#fff">1</text>
</svg></body></html>
